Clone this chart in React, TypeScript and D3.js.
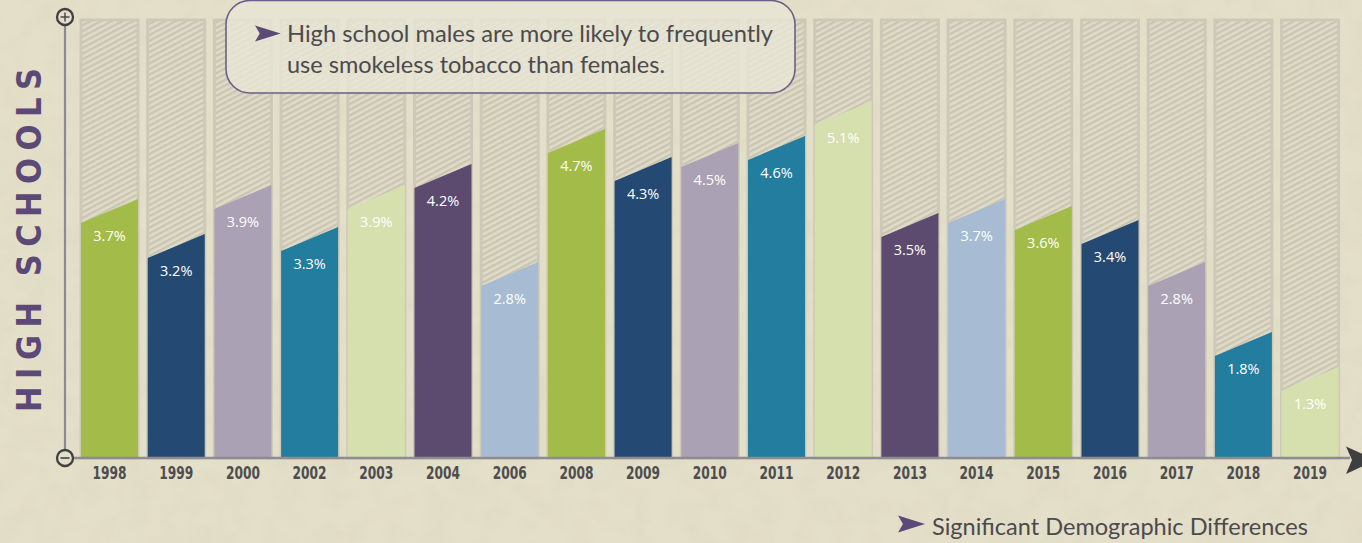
import React from "react";
import * as d3 from "d3";

// smokeless tobacco use, high schools
const years = ["1998", "1999", "2000", "2002", "2003", "2004", "2006", "2008", "2009", "2010", "2011", "2012", "2013", "2014", "2015", "2016", "2017", "2018", "2019"];
const values = [3.7, 3.2, 3.9, 3.3, 3.9, 4.2, 2.8, 4.7, 4.3, 4.5, 4.6, 5.1, 3.5, 3.7, 3.6, 3.4, 2.8, 1.8, 1.3];
const palette = ["#a3bb48", "#244a74", "#aaa1b4", "#227d9e", "#d6dfae", "#5c4a6f", "#a7bcd2"];

const calloutLines = ["High school males are more likely to frequently", "use smokeless tobacco than females."];
const footnote = "Significant Demographic Differences";
const axisTitle = "HIGH SCHOOLS";

const W = 1362;
const H = 543;
const baseY = 458;
const topY = 18;
const slant = 24;

export default function App() {
  const x = d3.scaleBand<string>().domain(years).range([81, 1338.6]).paddingInner(0.145).paddingOuter(0);
  const y = d3.scaleLinear().domain([0, 6.286]).range([baseY, topY]);
  const bw = x.bandwidth();

  const arrowMark = (px: number, py: number, s: number) =>
    `M${px},${py - 8.5 * s} L${px + 27 * s},${py} L${px},${py + 8.5 * s} L${px + 5 * s},${py} Z`;

  return (
    <svg width={W} height={H} style={{ position: "absolute", left: 0, top: 0, display: "block" }}>
      <defs>
        <pattern id="hatch" patternUnits="userSpaceOnUse" width="8" height="5" patternTransform="rotate(-28)">
          <rect width="8" height="5" fill="#e0dbc6" />
          <rect width="8" height="2.3" fill="#c9c5b2" />
        </pattern>
        <filter id="paper" x="0" y="0" width="100%" height="100%">
          <feTurbulence type="fractalNoise" baseFrequency="0.04" numOctaves="3" seed="4" />
          <feColorMatrix type="matrix" values="0 0 0 0 0.55  0 0 0 0 0.52  0 0 0 0 0.42  0 0 0 0.9 -0.35" />
        </filter>
      </defs>

      <rect width={W} height={H} fill="#e4dfc8" />
      <rect width={W} height={H} filter="url(#paper)" opacity={0.3} />

      {/* background hatched columns */}
      {years.map((yr) => (
        <rect key={"bg" + yr} x={x(yr)} y={topY + 2} width={bw} height={baseY - topY - 2}
          fill="url(#hatch)" stroke="#cdc9b8" strokeWidth={3} />
      ))}

      {/* value bars with slanted tops */}
      {years.map((yr, i) => {
        const x0 = x(yr) as number;
        const yt = y(values[i]);
        return (
          <g key={"bar" + yr}>
            <path d={`M${x0},${baseY} L${x0},${yt + slant} L${x0 + bw},${yt} L${x0 + bw},${baseY} Z`}
              fill={palette[i % palette.length]} />
            <text x={x0 + bw / 2} y={yt + 42} textAnchor="middle" fill="#ffffff"
              style={{ fontFamily: "'Open Sans', sans-serif", fontSize: 14.5 }}>
              {values[i].toFixed(1)}%
            </text>
          </g>
        );
      })}

      {/* axes */}
      <line x1={65} x2={65} y1={25} y2={450} stroke="#8d8a95" strokeWidth={2.2} />
      <line x1={73} x2={1350} y1={baseY} y2={baseY} stroke="#8e8c93" strokeWidth={2.6} />
      <path d="M1346,446.5 L1376,460 L1346,474 L1352,460 Z" fill="#3f3f41" />

      <circle cx={65} cy={17} r={8} fill="#e4dfc8" stroke="#404042" strokeWidth={2.3} />
      <line x1={60.5} x2={69.5} y1={17} y2={17} stroke="#404042" strokeWidth={1.4} />
      <line x1={65} x2={65} y1={12.5} y2={21.5} stroke="#404042" strokeWidth={1.4} />
      <circle cx={65} cy={baseY} r={8} fill="#e4dfc8" stroke="#404042" strokeWidth={2.3} />
      <line x1={60.5} x2={69.5} y1={baseY} y2={baseY} stroke="#404042" strokeWidth={1.6} />

      {years.map((yr) => (
        <text key={"lbl" + yr} x={(x(yr) as number) + bw / 2} y={479} textAnchor="middle" fill="#4d4d50"
          textLength={34} lengthAdjust="spacingAndGlyphs"
          style={{ fontFamily: "'Liberation Sans Narrow', 'DejaVu Sans Condensed', sans-serif", fontSize: 17, fontWeight: 700 }}>
          {yr}
        </text>
      ))}

      <text transform="translate(41,240) rotate(-90)" textAnchor="middle" fill="#5b4a75"
        textLength={344} lengthAdjust="spacing"
        style={{ fontFamily: "'DejaVu Sans Condensed', 'DejaVu Sans', sans-serif", fontSize: 34, fontWeight: 700 }}>
        {axisTitle}
      </text>

      {/* callout */}
      <rect x={226} y={0.5} width={569} height={92.5} rx={24} ry={24}
        fill="#e8e5d5" fillOpacity={0.82} stroke="#6c5e88" strokeWidth={1.6} />
      <path d={arrowMark(255, 33.5, 0.95)} fill="#5b4a78" />
      {calloutLines.map((t, i) => (
        <text key={t} x={287} y={42 + i * 30.5} fill="#4b4a4d"
          textLength={i === 0 ? 486 : 378} lengthAdjust="spacingAndGlyphs"
          style={{ fontFamily: "Lato, 'Noto Sans', sans-serif", fontSize: 22.5 }}>
          {t}
        </text>
      ))}

      <path d={arrowMark(898, 524, 1)} fill="#5b4a78" />
      <text x={932} y={535} fill="#4b4a4d" textLength={376} lengthAdjust="spacingAndGlyphs"
        style={{ fontFamily: "Lato, 'Noto Sans', sans-serif", fontSize: 22.5 }}>
        {footnote}
      </text>
    </svg>
  );
}
